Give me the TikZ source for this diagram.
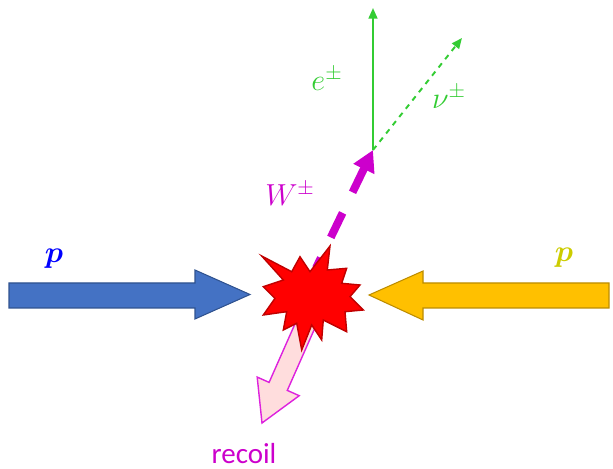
\documentclass[tikz,border=0pt]{standalone}
\usepackage{fontspec}
\usepackage{amsmath}
\usepackage{bm}
\usetikzlibrary{arrows.meta}
\newfontfamily\labelfont{Carlito}

\definecolor{beamblue}{HTML}{4472C4}
\definecolor{beamblueedge}{HTML}{2F528F}
\definecolor{beamgold}{HTML}{FFC000}
\definecolor{beamgoldedge}{HTML}{BC8C00}
\definecolor{plabel}{HTML}{CCCC00}
\definecolor{wmag}{HTML}{CC00CC}
\definecolor{recoilpink}{HTML}{FFDDDD}
\definecolor{recoiledge}{HTML}{DD22DD}
\definecolor{leptgreen}{HTML}{33CC33}
\definecolor{hitred}{HTML}{FF0000}
\definecolor{hitedge}{HTML}{C00000}

\tikzset{
  lbl/.style={font=\fontsize{17}{20}\selectfont},
  plbl/.style={font=\fontsize{19}{22}\selectfont},
  lepton/.style={leptgreen, line width=1.1pt, -{Triangle[length=6pt, width=5pt]}}
}

\begin{document}
\begin{tikzpicture}[x=0.02cm, y=-0.02cm, line join=miter]
	\useasboundingbox (0,0) rectangle (613,469);

	% Points
	\coordinate (vertex) at (373,150);
	\coordinate (eTip) at (373,8);
	\coordinate (nuTip) at (462,38);
	\coordinate (wStart) at (316,268);

	% Incoming protons
	\draw[draw=beamblueedge, fill=beamblue, line width=0.6pt]
		(9,283) -- (195,283) -- (195,270) -- (250,294.5) -- (195,319) -- (195,308) -- (9,308) -- cycle;
	\draw[draw=beamgoldedge, fill=beamgold, line width=0.6pt]
		(609,283) -- (423,283) -- (423,271) -- (369,295) -- (423,320) -- (423,308) -- (609,308) -- cycle;
	\node[plbl, text=blue] (pleft) at (54,259) {$\bm{p}$};
	\node[plbl, text=plabel] (pright) at (564,258) {$\bm{p}$};

	% Recoil
	\draw[draw=recoiledge, fill=recoilpink, line width=0.8pt]
		(302.9,306.0) -- (269.1,382.4) -- (257.2,377.1) -- (262,423) -- (299.2,395.7) -- (287.3,390.4) -- (321.1,314.0) -- cycle;
	\node[text=wmag, inner sep=0pt, font=\labelfont\fontsize{16.5}{20}\selectfont] (recoil) at (244,454) {recoil};

	% W boson
	\draw[wmag, line width=4.5pt, dash pattern=on 15.5pt off 13pt, {Triangle[length=12pt, width=12.5pt]}-]
		(vertex) -- (wStart);
	\node[lbl, text=wmag] (wlabel) at (290,194) {$W^{\pm}$};

	% Collision
	\draw[draw=hitedge, fill=hitred, line width=0.8pt]
		(261.7,256) -- (291.7,271.7) -- (300,256.7) -- (310,271.7) -- (330,246) -- (327.3,270)
		-- (346.7,268.3) -- (341.7,283.3) -- (360,285) -- (350,296.7) -- (363.3,310) -- (345,311.7)
		-- (346.7,331.7) -- (323.3,320) -- (321.7,340) -- (311.7,325) -- (301.7,350) -- (296.7,323.3)
		-- (283.3,330) -- (286.7,311.7) -- (263.3,315) -- (275,298.3) -- (263.3,286.7) -- (283.3,280) -- cycle;

	% Decay leptons
	\draw[lepton] (vertex) -- (eTip);
	\draw[lepton, dash pattern=on 3pt off 3pt] (vertex) -- (nuTip);
	\node[lbl, text=leptgreen] (elabel) at (327,79) {$e^{\pm}$};
	\node[lbl, text=leptgreen] (nulabel) at (449,97) {$\nu^{\pm}$};
\end{tikzpicture}
\end{document}
